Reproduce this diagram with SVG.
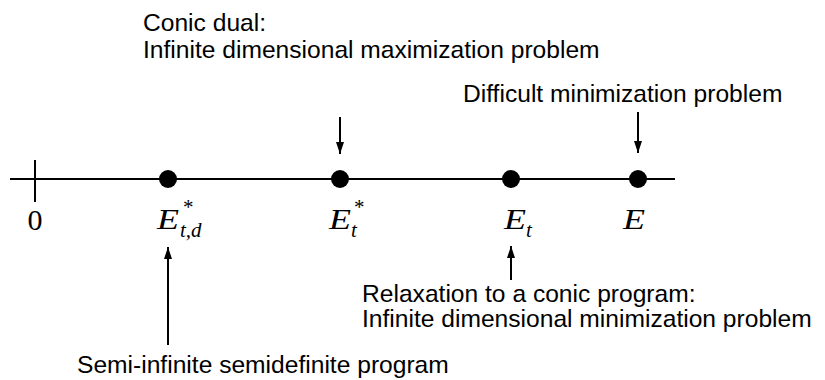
<svg xmlns="http://www.w3.org/2000/svg" width="825" height="380" viewBox="0 0 825 380">
<style>
.t{font-family:"Liberation Sans","DejaVu Sans",sans-serif;font-size:24.6px;fill:#000}
.m{font-family:"Liberation Serif","DejaVu Serif",serif;font-size:30px;fill:#000}
.mi{font-style:italic}
.sup{font-family:"Liberation Serif","DejaVu Serif",serif;font-size:21px;fill:#000}
.sub{font-family:"Liberation Serif","DejaVu Serif",serif;font-size:21px;font-style:italic;fill:#000}
.ln{stroke:#000;stroke-width:2;fill:none}
.dot{fill:#000}
</style>
<defs>
<marker id="ah" viewBox="0 0 12 8" refX="12" refY="4" markerWidth="6" markerHeight="4" orient="auto" markerUnits="strokeWidth">
<path d="M0,0 L12,4 L0,8 Z" fill="#000"/>
</marker>
</defs>
<rect width="825" height="380" fill="#fff"/>
<g id="axis">
<line class="ln" x1="10" y1="179" x2="675" y2="179"/>
<line class="ln" x1="35" y1="160" x2="35" y2="202"/>
<text class="m" x="35" y="230" text-anchor="middle">0</text>
</g>
<g id="Etd">
<circle class="dot" cx="168" cy="179" r="9"/>
<text class="m mi" transform="translate(168,229) scale(1.2,1)" text-anchor="middle">E</text>
<text class="sup" x="183" y="214">*</text>
<text class="sub" x="180" y="237">t,d</text>
</g>
<g id="Etstar">
<circle class="dot" cx="340" cy="179" r="9"/>
<text class="m mi" transform="translate(340,229) scale(1.2,1)" text-anchor="middle">E</text>
<text class="sup" x="354" y="214">*</text>
<text class="sub" x="351" y="237">t</text>
</g>
<g id="Et">
<circle class="dot" cx="511" cy="179" r="9"/>
<text class="m mi" transform="translate(515,229) scale(1.2,1)" text-anchor="middle">E</text>
<text class="sub" x="526" y="237">t</text>
</g>
<g id="E">
<circle class="dot" cx="638" cy="179" r="9"/>
<text class="m mi" transform="translate(634,229) scale(1.2,1)" text-anchor="middle">E</text>
</g>
<g id="dual-label">
<text class="t" x="143" y="31">Conic dual:</text>
<text class="t" x="143" y="58">Infinite dimensional maximization problem</text>
</g>
<g id="difficult-label">
<text class="t" x="463" y="102">Difficult minimization problem</text>
</g>
<g id="relax-label">
<text class="t" x="362" y="302">Relaxation to a conic program:</text>
<text class="t" x="362" y="327">Infinite dimensional minimization problem</text>
</g>
<g id="sdp-label">
<text class="t" x="77" y="373">Semi-infinite semidefinite program</text>
</g>
<g id="connectors">
<line class="ln" x1="340" y1="117" x2="340" y2="154" marker-end="url(#ah)"/>
<line class="ln" x1="638" y1="112" x2="638" y2="153" marker-end="url(#ah)"/>
<line class="ln" x1="168" y1="345" x2="168" y2="247" marker-end="url(#ah)"/>
<line class="ln" x1="511" y1="280" x2="511" y2="246" marker-end="url(#ah)"/>
</g>
</svg>
